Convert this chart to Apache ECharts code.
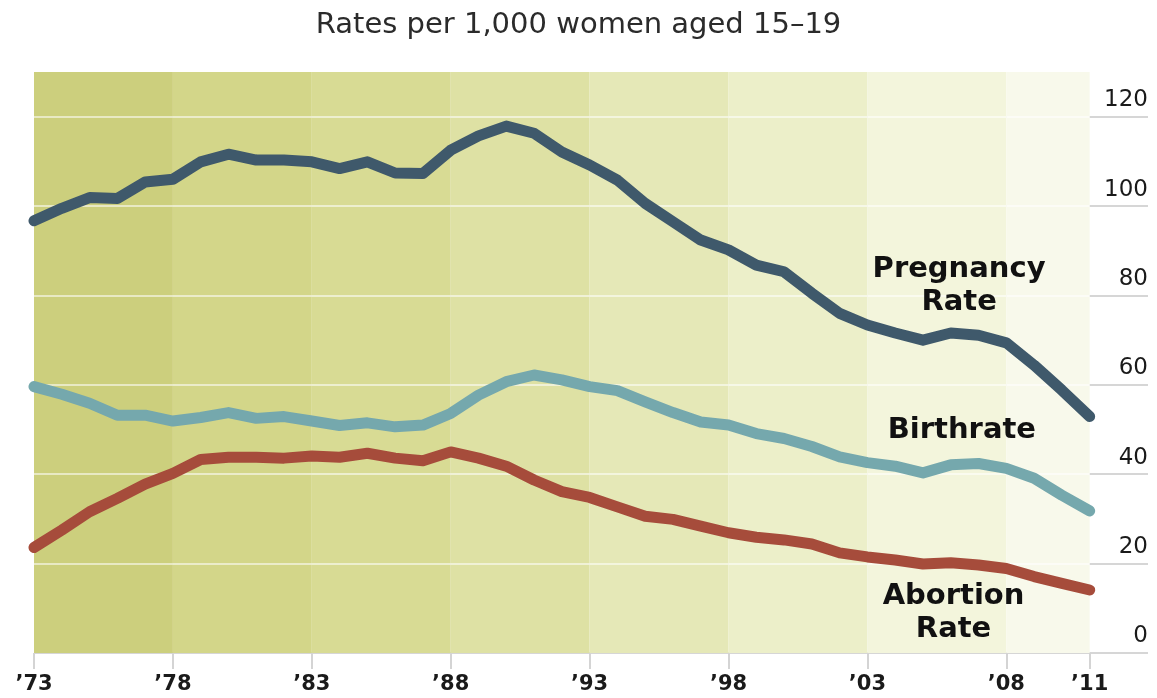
<!DOCTYPE html>
<html>
<head>
<meta charset="utf-8">
<title>Teen rates</title>
<script src="https://cdn.jsdelivr.net/npm/echarts@6/dist/echarts.min.js"></script>
<style>
    html, body { margin: 0; padding: 0; background: #fff; }
    #myChart { width: 1157px; height: 698px; }
</style>
</head>
<body>
<div id="myChart"></div>
<script>
var years = [1973,1974,1975,1976,1977,1978,1979,1980,1981,1982,1983,1984,1985,1986,1987,1988,1989,1990,1991,1992,
    1993,1994,1995,1996,1997,1998,1999,2000,2001,2002,2003,2004,2005,2006,2007,2008,2009,2010,2011];
var pregnancyRate = [96.7,99.5,101.9,101.7,105.4,106,109.9,111.6,110.3,110.3,109.9,108.4,109.9,107.4,107.3,112.5,115.7,117.9,116.3,112.1,
    109.2,105.8,100.6,96.5,92.4,90.2,86.8,85.3,80.5,76,73.4,71.6,70,71.6,71.1,69.4,64.4,58.8,52.9];
var birthRate = [59.6,57.9,55.9,53.2,53.2,51.9,52.7,53.8,52.5,52.9,51.9,50.9,51.5,50.6,51,53.6,57.7,60.7,62.2,61.1,
    59.6,58.7,56.2,53.8,51.7,51,49.1,48,46.2,43.9,42.6,41.8,40.3,42.1,42.4,41.3,39.1,35.3,31.8];
var abortionRate = [23.6,27.5,31.6,34.6,37.8,40.2,43.3,43.8,43.8,43.6,44.1,43.8,44.7,43.6,43,45,43.6,41.8,38.7,36.1,
    34.8,32.7,30.6,29.9,28.4,26.9,25.9,25.3,24.4,22.4,21.5,20.8,19.9,20.2,19.7,18.9,17.1,15.6,14.1];

var tickYears = [1973,1978,1983,1988,1993,1998,2003,2008,2011];
var bandColors = ['#cccf7d','#d3d689','#d8db94','#dee1a4','#e5e8b7','#ecefc9','#f3f5dc','#f8f9eb'];
var gridValues = [20,40,60,80,100,120];

var fontName = '"DejaVu Sans", sans-serif';

function pairs(list){
    var out = [];
    for(var i=0;i<years.length;i++){
        out.push([years[i], list[i]]);
    }
    return out;
}

// shaded 5-year bands behind the lines
var bands = [];
for(var i=0;i<tickYears.length-1;i++){
    bands.push([
        {xAxis: tickYears[i], yAxis: 0, itemStyle: {color: bandColors[i]}},
        {xAxis: tickYears[i+1], yAxis: 130}
    ]);
}
// light grid lines drawn over the bands
var bandGrid = [];
for(var j=0;j<gridValues.length;j++){
    bandGrid.push([
        {coord: [tickYears[0], gridValues[j]]},
        {coord: [tickYears[tickYears.length-1], gridValues[j]]}
    ]);
}

function seriesLabel(text, x, y){
    return {
        symbol: 'circle',
        symbolSize: 1,
        itemStyle: {color: 'transparent'},
        data: [{coord: [x, y]}],
        label: {
            show: true,
            position: 'inside',
            formatter: text,
            color: '#111',
            fontFamily: fontName,
            fontWeight: 'bold',
            fontSize: 29,
            lineHeight: 33,
            align: 'center'
        }
    };
}

function lineSeries(name, list, color, labelText, lx, ly){
    return {
        name: name,
        type: 'line',
        data: pairs(list),
        symbol: 'none',
        z: 5,
        lineStyle: {color: color, width: 11, cap: 'round', join: 'round'},
        markPoint: seriesLabel(labelText, lx, ly)
    };
}

var myChart = echarts.init(document.getElementById('myChart'));
var option = {
    animation: false,
    title: {
        text: 'Rates per 1,000 women aged 15\u201319',
        left: 'center',
        top: 6,
        textStyle: {fontFamily: fontName, fontWeight: 'normal', fontSize: 29, color: '#2b2b2b'}
    },
    grid: {left: 34, right: 9, top: 72, bottom: 45},
    xAxis: {
        type: 'value',
        min: 1973,
        max: 2013.1,
        axisLine: {show: false},
        splitLine: {show: false},
        axisTick: {
            show: true,
            customValues: tickYears,
            length: 16,
            lineStyle: {color: '#d4d4d4', width: 2}
        },
        axisLabel: {
            customValues: tickYears,
            margin: 21,
            color: '#1a1a1a',
            fontFamily: fontName,
            fontWeight: 'bold',
            fontSize: 21,
            formatter: function(v){ return '\u2019' + String(v).slice(2); }
        }
    },
    yAxis: {
        type: 'value',
        position: 'right',
        min: 0,
        max: 130,
        interval: 20,
        axisLine: {show: false},
        axisTick: {show: false},
        splitLine: {
            show: true,
            // last split line sits on the top edge (130) and is not drawn
            lineStyle: {color: ['#d6d6d6','#d6d6d6','#d6d6d6','#d6d6d6','#d6d6d6','#d6d6d6','#d6d6d6','rgba(0,0,0,0)'], width: 2}
        },
        axisLabel: {
            inside: true,
            margin: 0,
            verticalAlign: 'bottom',
            padding: [0, 0, 5, 0],
            color: '#1a1a1a',
            fontFamily: fontName,
            fontSize: 23,
            formatter: function(v){ return v > 120 ? '' : String(v); }
        }
    },
    series: [
        {
            name: 'bands',
            type: 'line',
            data: [],
            z: 1,
            silent: true,
            markArea: {silent: true, data: bands},
            markLine: {
                silent: true,
                symbol: 'none',
                label: {show: false},
                lineStyle: {color: 'rgba(255,255,255,0.55)', width: 2, type: 'solid'},
                data: bandGrid
            }
        },
        lineSeries('Pregnancy Rate', pregnancyRate, '#3f596b', 'Pregnancy\nRate', 2006.3, 82.2),
        lineSeries('Birthrate', birthRate, '#75a8ad', 'Birthrate', 2006.4, 49.7),
        lineSeries('Abortion Rate', abortionRate, '#a64c3b', 'Abortion\nRate', 2006.1, 8.9)
    ]
};
myChart.setOption(option);
</script>
</body>
</html>
